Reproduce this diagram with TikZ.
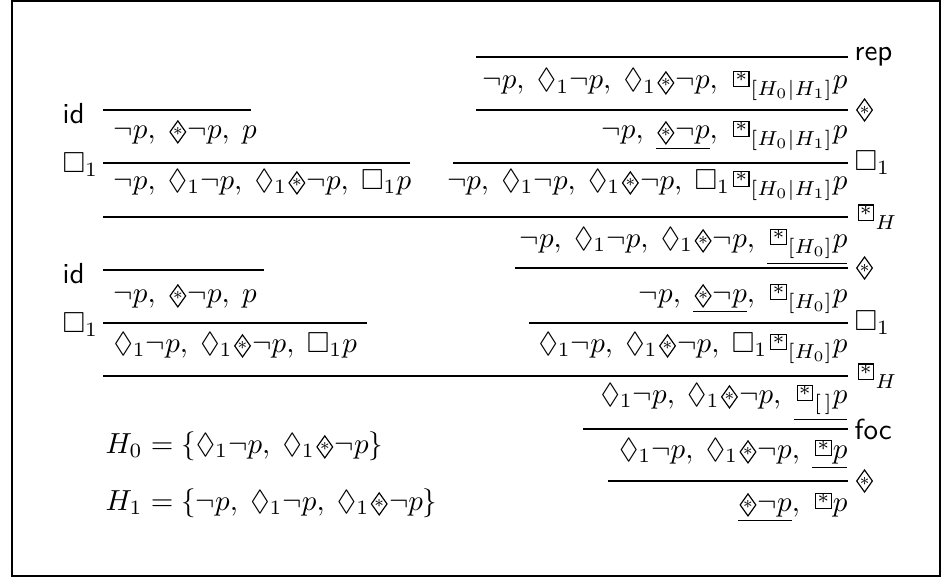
\documentclass[tikz,border=0pt]{standalone}
\usepackage{amssymb}
\newsavebox\dastbox
\newsavebox\bastbox
\newcommand{\dst}{\mathord{\usebox\dastbox}}
\newcommand{\bst}{\mathord{\usebox\bastbox}}
\newcommand{\cm}{,\mskip 4.7mu}
\begin{document}
\global\setbox\dastbox=\hbox{\pgfpicture
 \pgfsetbaseline{0pt}%
 \pgfpathrectanglecorners{\pgfpoint{-0.3pt}{-1.8pt}}{\pgfpoint{6.5pt}{6.0pt}}\pgfusepath{use as bounding box}%
 \pgfsetlinewidth{0.4pt}\pgfsetmiterjoin
 \pgfpathmoveto{\pgfpoint{3.1pt}{-1.7pt}}\pgfpathlineto{\pgfpoint{5.8pt}{2.1pt}}\pgfpathlineto{\pgfpoint{3.1pt}{5.9pt}}\pgfpathlineto{\pgfpoint{0.4pt}{2.1pt}}\pgfpathclose\pgfusepath{stroke}%
 \pgftext[at=\pgfpoint{3.1pt}{2.1pt}]{\scalebox{0.85}{$\scriptstyle\ast$}}%
\endpgfpicture}
\global\setbox\bastbox=\hbox{\pgfpicture
 \pgfsetbaseline{0pt}%
 \pgfpathrectanglecorners{\pgfpoint{-1.0pt}{-1.9pt}}{\pgfpoint{6.1pt}{6.3pt}}\pgfusepath{use as bounding box}%
 \pgfsetlinewidth{0.4pt}%
 \pgfpathrectanglecorners{\pgfpoint{0.2pt}{0.8pt}}{\pgfpoint{5.5pt}{6.1pt}}\pgfusepath{stroke}%
 \pgftext[at=\pgfpoint{2.85pt}{4.2pt}]{$\scriptstyle\ast$}%
\endpgfpicture}
\begin{tikzpicture}[x=0.3448pt,y=-0.3448pt,
  rulel/.style={line width=0.6pt},
  fr/.style={inner sep=0pt,anchor=base east},
  fl/.style={inner sep=0pt,anchor=base west},
  lblr/.style={inner sep=0pt,anchor=west},
  lbll/.style={inner sep=0pt,anchor=west}]
\useasboundingbox (0,0) rectangle (948,578);
\draw[line width=0.7pt] (12,1) rectangle (940,576);
% right column
\draw[rulel] (476,57) -- (848,57) node[lblr,xshift=2pt] (lrep) {\textsf{rep}};
\node[fr] (r1) at (848,89) {$\neg p\cm \Diamond_1\neg p\cm \Diamond_1\dst\neg p\cm \bst_{[H_0|H_1]}p$};
\draw[rulel] (476,110) -- (848,110) node[lblr,xshift=2pt] (ld1) {$\dst$};
\node[fr] (r2) at (848,139) {$\neg p\cm \underline{\dst\neg p}\cm \bst_{[H_0|H_1]}p$};
\draw[rulel] (453,163) -- (848,163) node[lblr,xshift=2pt] (lb1) {$\Box_1$};
\node[fr] (r3) at (848,189) {$\neg p\cm \Diamond_1\neg p\cm \Diamond_1\dst\neg p\cm \Box_1\bst_{[H_0|H_1]}p$};
% left column top
\draw[rulel] (103,110) -- (251,110);
\node[lbll] (lid1) at (62,114) {\textsf{id}};
\node[fl] (l1) at (113,138) {$\neg p\cm \dst\neg p\cm p$};
\draw[rulel] (103,163) -- (410,163);
\node[lbll] (lbl1) at (62,165) {$\Box_1$};
\node[fl] (l2) at (113,189) {$\neg p\cm \Diamond_1\neg p\cm \Diamond_1\dst\neg p\cm \Box_1 p$};
% big rule 1
\draw[rulel] (103,217) -- (848,217) node[lblr,xshift=2pt] (lh1) {$\bst_H$};
\node[fr] (r4) at (848,247) {$\neg p\cm \Diamond_1\neg p\cm \Diamond_1\dst\neg p\cm \underline{\bst_{[H_0]}p}$};
\draw[rulel] (515,268) -- (848,268) node[lblr,xshift=2pt] (ld2) {$\dst$};
\node[fr] (r5) at (848,302) {$\neg p\cm \underline{\dst\neg p}\cm \bst_{[H_0]}p$};
\draw[rulel] (529,323) -- (848,323) node[lblr,xshift=2pt] (lb2) {$\Box_1$};
\node[fr] (r6) at (848,352) {$\Diamond_1\neg p\cm \Diamond_1\dst\neg p\cm \Box_1\bst_{[H_0]}p$};
% left column second
\draw[rulel] (103,270) -- (264,270);
\node[lbll] (lid2) at (62,274) {\textsf{id}};
\node[fl] (l3) at (113,302) {$\neg p\cm \dst\neg p\cm p$};
\draw[rulel] (103,323) -- (367,323);
\node[lbll] (lbl2) at (62,325) {$\Box_1$};
\node[fl] (l4) at (113,352) {$\Diamond_1\neg p\cm \Diamond_1\dst\neg p\cm \Box_1 p$};
% big rule 2
\draw[rulel] (103,376) -- (848,376) node[lblr,xshift=2pt] (lh2) {$\bst_H$};
\node[fr] (r7) at (848,403) {$\Diamond_1\neg p\cm \Diamond_1\dst\neg p\cm \underline{\bst_{[\,]}p}$};
\draw[rulel] (583,429) -- (848,429) node[lblr,xshift=2pt] (lfoc) {\textsf{foc}};
\node[fr] (r8) at (848,458) {$\Diamond_1\neg p\cm \Diamond_1\dst\neg p\cm \underline{\bst p}$};
\draw[rulel] (608,481) -- (848,481) node[lblr,xshift=2pt] (ld3) {$\dst$};
\node[fr] (r9) at (848,511) {$\underline{\dst\neg p}\cm \bst p$};
% definitions
\node[fl] (h0) at (105,453) {$H_0=\{\Diamond_1\neg p\cm \Diamond_1\dst\neg p\}$};
\node[fl] (h1) at (105,510) {$H_1=\{\neg p\cm \Diamond_1\neg p\cm \Diamond_1\dst\neg p\}$};
\end{tikzpicture}
\end{document}
